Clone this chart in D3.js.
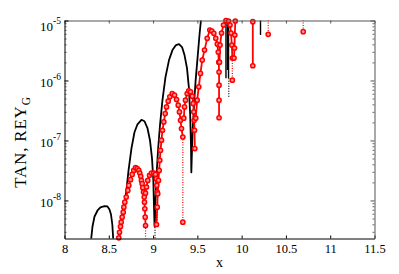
<!DOCTYPE html>
<html>
<head>
<meta charset="utf-8">
<script src="https://cdn.jsdelivr.net/npm/d3@7"></script>
<style>
body{margin:0;background:#fff;}
svg{display:block;}
</style>
</head>
<body>
<svg id="chart" width="399" height="274"></svg>
<script>
// TAN, solid black, lobes
const tanX = [8.299, 8.316, 8.339, 8.373, 8.406, 8.452, 8.485, 8.508, 8.525, 8.540, 8.551,
    8.615, 8.632, 8.655, 8.689, 8.723, 8.756, 8.790, 8.824, 8.869, 8.903, 8.937, 8.965, 8.988, 9.003, 9.010, 9.016,
    9.018, 9.027, 9.039, 9.056, 9.078, 9.106, 9.140, 9.180, 9.219, 9.259, 9.293, 9.327, 9.355, 9.383, 9.405, 9.419, 9.428, 9.432,
    9.436, 9.447, 9.462, 9.479, 9.502, 9.524, 9.541, 9.552];
const tanY = [2.15e-9, 3.67e-9, 5.40e-9, 6.80e-9, 7.64e-9, 8.03e-9, 7.94e-9, 7.07e-9, 5.83e-9, 3.97e-9, 2.15e-9,
    2.15e-9, 3.40e-9, 5.83e-9, 1.08e-8, 3.17e-8, 7.40e-8, 1.37e-7, 1.86e-7, 2.21e-7, 2.09e-7, 1.60e-7, 1.01e-7, 5.03e-8, 2.16e-8, 8.24e-9, 3.97e-9,
    3.67e-9, 1.00e-8, 2.62e-8, 6.85e-8, 1.79e-7, 4.69e-7, 1.14e-6, 2.19e-6, 3.21e-6, 3.90e-6, 4.05e-6, 3.61e-6, 2.65e-6, 1.61e-6, 7.45e-7, 2.63e-7, 8.30e-8, 2.94e-8,
    4.67e-8, 1.48e-7, 3.87e-7, 9.38e-7, 2.36e-6, 5.73e-6, 1.02e-5, 1.39e-5];

// short TAN strokes near the top
const tanBarX = [9.823, 9.840, 9.852, 10.213];
const tanBarTop = [1.02e-5, 1.02e-5, 9.55e-6, 1.02e-5];
const tanBarBottom = [1.09e-6, 1.49e-6, 1.09e-6, 5.73e-6];
const tanDotX = [9.855, 9.022];
const tanDotTop = [1.09e-6, 5.26e-9];
const tanDotBottom = [5.07e-7, 2.15e-9];

// REY_G, red with markers; reySeg splits the pieces
const reyX = [8.613, 8.621, 8.632, 8.640, 8.651, 8.663, 8.670, 8.681, 8.697, 8.715, 8.726, 8.745, 8.764, 8.782, 8.802, 8.821, 8.839, 8.850, 8.861, 8.869, 8.877, 8.884, 8.892, 8.900, 8.903, 8.907, 8.911, 8.915,
    8.915, 8.926, 8.940, 8.960, 8.982, 9.008, 9.027, 9.035, 9.042, 9.047,
    9.039, 9.047, 9.053, 9.061, 9.069, 9.076, 9.084, 9.095, 9.106, 9.121, 9.137, 9.152, 9.171, 9.189, 9.216, 9.242, 9.265, 9.284, 9.298, 9.310, 9.321, 9.336,
    9.347, 9.355, 9.366, 9.385, 9.403, 9.423, 9.442, 9.453, 9.460, 9.464, 9.468, 9.471,
    9.482, 9.498, 9.516, 9.535, 9.555, 9.581, 9.611, 9.641, 9.663, 9.686, 9.708, 9.725, 9.736, 9.742, 9.745, 9.745, 9.745, 9.745,
    9.750, 9.756, 9.773, 9.795, 9.823, 9.852, 9.869, 9.880, 9.889, 9.895,
    9.914, 9.919, 9.923, 9.928,
    10.126, 10.126];
const reyY = [2.38e-9, 2.95e-9, 3.67e-9, 4.34e-9, 5.26e-9, 6.37e-9, 7.73e-9, 9.37e-9, 1.14e-8, 1.47e-8, 1.78e-8, 2.22e-8, 2.72e-8, 3.17e-8, 3.52e-8, 3.39e-8, 3.17e-8, 2.86e-8, 2.52e-8, 2.16e-8, 1.90e-8, 1.63e-8, 1.38e-8, 1.14e-8, 9.37e-9, 7.26e-9, 5.26e-9, 3.82e-9,
    1.32e-8, 1.67e-8, 2.16e-8, 2.62e-8, 2.86e-8, 2.86e-8, 2.72e-8, 2.31e-8, 1.78e-8, 1.38e-8,
    3.97e-9, 7.73e-9, 1.29e-8, 2.16e-8, 3.17e-8, 4.67e-8, 6.85e-8, 1.01e-7, 1.48e-7, 2.04e-7, 2.81e-7, 3.62e-7, 4.52e-7, 5.33e-7, 6.07e-7, 5.69e-7, 4.82e-7, 3.87e-7, 2.99e-7, 2.17e-7, 1.58e-7, 1.14e-7,
    2.35e-7, 3.62e-7, 4.69e-7, 6.07e-7, 6.71e-7, 6.46e-7, 5.47e-7, 4.13e-7, 2.99e-7, 2.17e-7, 1.48e-7, 7.31e-8,
    2.35e-7, 4.69e-7, 7.83e-7, 1.31e-6, 2.19e-6, 3.21e-6, 5.04e-6, 6.94e-6, 6.68e-6, 6.11e-6, 5.04e-6, 4.05e-6, 2.97e-6, 2.02e-6, 1.38e-6, 8.36e-7, 4.69e-7, 2.39e-7,
    2.02e-6, 3.90e-6, 6.18e-6, 8.41e-6, 9.92e-6, 9.81e-6, 8.41e-6, 6.18e-6, 3.90e-6, 2.36e-6,
    2.36e-6, 3.47e-6, 5.73e-6, 9.81e-6,
    9.55e-6, 1.76e-6];
const reySeg = [1,1,1,1,1,1,1,1,1,1,1,1,1,1,1,1,1,1,1,1,1,1,1,1,1,1,1,1,
    2,2,2,2,2,2,2,2,2,2,
    3,3,3,3,3,3,3,3,3,3,3,3,3,3,3,3,3,3,3,3,3,3,
    4,4,4,4,4,4,4,4,4,4,4,4,
    5,5,5,5,5,5,5,5,5,5,5,5,5,5,5,5,5,5,
    6,6,6,6,6,6,6,6,6,6,
    7,7,7,7,
    8,8];

// REY_G dotted drops and the markers at their ends
const reyDropX = [8.915, 9.047, 9.336, 9.895, 10.300, 10.695];
const reyDropTop = [3.82e-9, 1.38e-8, 1.14e-7, 2.36e-6, 1.02e-5, 1.02e-5];
const reyDropBottom = [2.15e-9, 3.97e-9, 4.34e-9, 1.01e-6, 5.88e-6, 6.50e-6];
const reyLoneX = [9.336, 9.895, 10.300, 10.695];
const reyLoneY = [4.34e-9, 1.01e-6, 5.88e-6, 6.50e-6];

const xTicks = [8, 8.5, 9, 9.5, 10, 10.5, 11, 11.5];
const yMajor = [1e-8, 1e-7, 1e-6, 1e-5];
const yExp = ['-8', '-7', '-6', '-5'];

const padL = 64.5, padR = 374.5, padT = 20.5, padB = 238.5;
const font = 'Liberation Serif, Times New Roman, serif';

let svg = d3.select('#chart');
svg.append('rect').attr('width', 399).attr('height', 274).attr('fill', '#fff');

let x = d3.scaleLinear().domain([8, 11.5]).range([padL, padR]);
let y = d3.scaleLog().domain([2.32e-9, 1e-5]).range([padB, padT]);

svg.append('clipPath').attr('id', 'plotclip')
    .append('rect').attr('x', padL).attr('y', padT).attr('width', padR - padL).attr('height', padB - padT);
let plot = svg.append('g').attr('clip-path', 'url(#plotclip)');

let line = d3.line().x(d => x(d[0])).y(d => y(d[1]));

// black curve
plot.append('path')
    .datum(d3.zip(tanX, tanY))
    .attr('fill', 'none')
    .attr('stroke', '#000')
    .attr('stroke-width', 1.8)
    .attr('stroke-linejoin', 'round')
    .attr('d', line);

tanBarX.forEach((v, i) => {
    plot.append('line')
        .attr('x1', x(v)).attr('x2', x(v))
        .attr('y1', y(tanBarTop[i])).attr('y2', y(tanBarBottom[i]))
        .attr('stroke', '#000').attr('stroke-width', 1.4);
});
tanDotX.forEach((v, i) => {
    plot.append('line')
        .attr('x1', x(v)).attr('x2', x(v))
        .attr('y1', y(tanDotTop[i])).attr('y2', y(tanDotBottom[i]))
        .attr('stroke', '#000').attr('stroke-width', 1.2)
        .attr('stroke-dasharray', '1,1.5');
});

// red dotted drops
reyDropX.forEach((v, i) => {
    plot.append('line')
        .attr('x1', x(v)).attr('x2', x(v))
        .attr('y1', y(reyDropTop[i])).attr('y2', y(reyDropBottom[i]))
        .attr('stroke', '#f00').attr('stroke-width', 1.2)
        .attr('stroke-dasharray', '1,1.5');
});

// red pieces
let reyPts = d3.zip(reyX, reyY, reySeg);
let groups = d3.groups(reyPts, d => d[2]);
groups.forEach(([k, pts]) => {
    plot.append('path')
        .datum(pts)
        .attr('fill', 'none')
        .attr('stroke', '#f00')
        .attr('stroke-width', 1.8)
        .attr('stroke-linejoin', 'round')
        .attr('d', line);
});

// markers
let marks = reyPts.map(d => [d[0], d[1]]).concat(d3.zip(reyLoneX, reyLoneY));
svg.append('g').selectAll('circle')
    .data(marks)
    .enter().append('circle')
    .attr('cx', d => x(d[0]))
    .attr('cy', d => y(d[1]))
    .attr('r', 2.1)
    .attr('fill', '#ff9a9a')
    .attr('stroke', '#f00')
    .attr('stroke-width', 1.5);

// axes, ticks pointing inward on all four sides
let minor = [];
for (let e = -9; e <= -6; e++) {
    for (let m = 2; m <= 9; m++) {
        let v = m * Math.pow(10, e);
        if (v > 2.32e-9 && v < 1e-5) minor.push(v);
    }
}

function styleAxis(g, col) {
    g.select('.domain').attr('stroke', col);
    g.selectAll('.tick line').attr('stroke', col);
}

let gb = svg.append('g').attr('transform', 'translate(0,' + padB + ')')
    .call(d3.axisBottom(x).tickValues(xTicks).tickSizeInner(-3).tickSizeOuter(0).tickPadding(6).tickFormat(d3.format('')));
gb.attr('font-family', font).attr('font-size', 12.5);
gb.selectAll('text').attr('fill', '#000');
styleAxis(gb, '#000');

let gt = svg.append('g').attr('transform', 'translate(0,' + padT + ')')
    .call(d3.axisTop(x).tickValues(xTicks).tickSizeInner(-3).tickSizeOuter(0).tickFormat(''));
styleAxis(gt, '#555');

let gl = svg.append('g').attr('transform', 'translate(' + padL + ',0)')
    .call(d3.axisLeft(y).tickValues(yMajor).tickSizeInner(-4).tickSizeOuter(0).tickFormat(''));
styleAxis(gl, '#000');
let glm = svg.append('g').attr('transform', 'translate(' + padL + ',0)')
    .call(d3.axisLeft(y).tickValues(minor).tickSizeInner(-2).tickSizeOuter(0).tickFormat(''));
glm.select('.domain').remove();
glm.selectAll('.tick line').attr('stroke', '#444');

let gr = svg.append('g').attr('transform', 'translate(' + padR + ',0)')
    .call(d3.axisRight(y).tickValues(yMajor).tickSizeInner(-4).tickSizeOuter(0).tickFormat(''));
styleAxis(gr, '#555');
let grm = svg.append('g').attr('transform', 'translate(' + padR + ',0)')
    .call(d3.axisRight(y).tickValues(minor).tickSizeInner(-2).tickSizeOuter(0).tickFormat(''));
grm.select('.domain').remove();
grm.selectAll('.tick line').attr('stroke', '#666');

// y tick labels 10^n
let yl = svg.append('g').attr('font-family', font).attr('fill', '#000');
yMajor.forEach((v, i) => {
    let t = yl.append('text')
        .attr('x', 61)
        .attr('y', y(v) + (v === 1e-5 ? 10.5 : 7))
        .attr('text-anchor', 'end')
        .attr('font-size', 13);
    t.append('tspan').text('10');
    t.append('tspan').attr('dy', -7.5).attr('font-size', 9.5).text(yExp[i]);
});

// axis titles
svg.append('text')
    .attr('x', (padL + padR) / 2)
    .attr('y', 266.5)
    .attr('text-anchor', 'middle')
    .attr('font-family', font)
    .attr('font-size', 14)
    .text('x');

let ylab = svg.append('text')
    .attr('transform', 'translate(26,142) rotate(-90)')
    .attr('text-anchor', 'middle')
    .attr('font-family', font)
    .attr('font-size', 17)
    .attr('letter-spacing', 0.8);
ylab.append('tspan').text('TAN, REY');
ylab.append('tspan').attr('dy', 3.5).attr('font-size', 11.5).text('G');
</script>
</body>
</html>
